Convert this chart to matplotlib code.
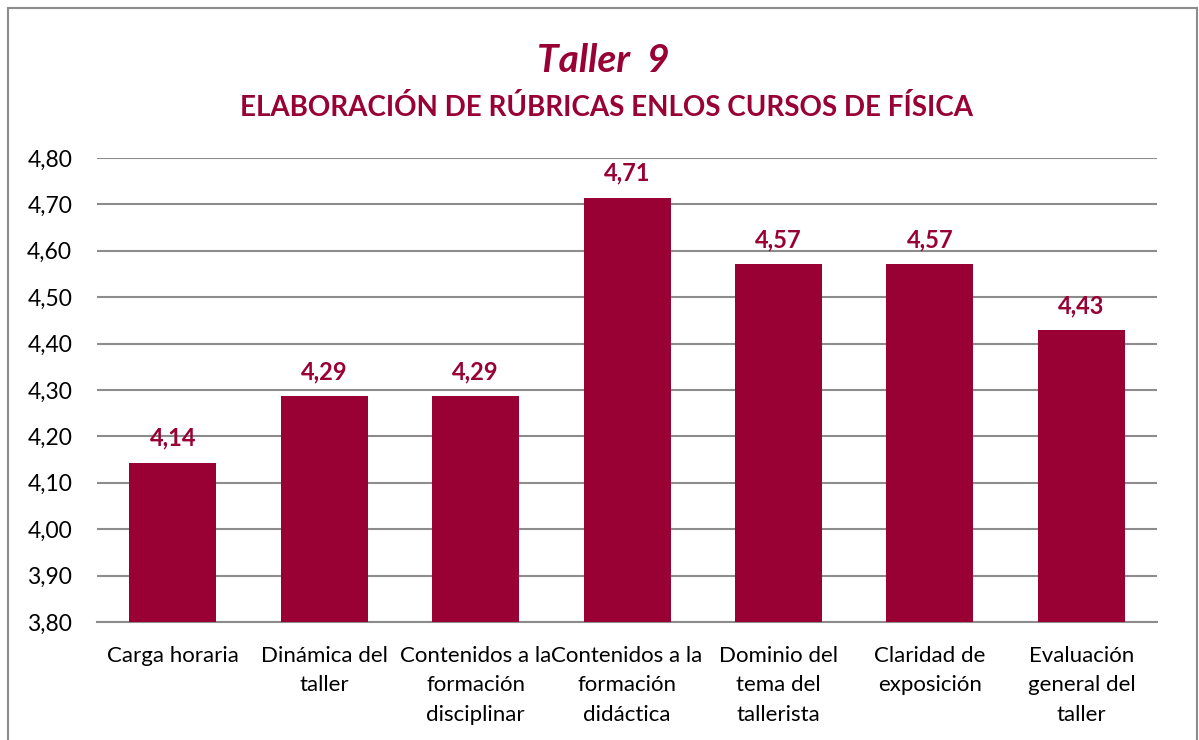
import matplotlib
matplotlib.use("Agg")
import matplotlib.pyplot as plt
from matplotlib.patches import Rectangle
import numpy as np

plt.rcParams['font.family'] = ['Lato', 'DejaVu Sans']

# data
categories = ["Carga horaria", "Dinámica del\ntaller", "Contenidos a la\nformación\ndisciplinar",
              "Contenidos a la\nformación\ndidáctica", "Dominio del\ntema del\ntallerista",
              "Claridad de\nexposición", "Evaluación\ngeneral del\ntaller"]
values = [4.143, 4.286, 4.286, 4.714, 4.571, 4.571, 4.429]
yticks = [3.8, 3.9, 4.0, 4.1, 4.2, 4.3, 4.4, 4.5, 4.6, 4.7, 4.8]

barColor = '#990033'
gridColor = '#8c8c8c'

fig = plt.figure(figsize=(11.99, 7.40), dpi=100)
ax = fig.add_axes([0.081, 0.1595, 0.884, 0.627])

x = np.arange(len(categories))
ax.bar(x, values, width=0.575, color=barColor, zorder=3)

for xi, v in zip(x, values):
	ax.text(xi, v + 0.028, ("%.2f" % v).replace('.', ','), ha='center', va='bottom',
		fontsize=17, fontweight='bold', color=barColor)

ax.set_ylim(3.8, 4.8)
ax.set_xlim(-0.5, len(categories) - 0.5)
ax.set_yticks(yticks)
ax.set_yticklabels([("%.2f" % t).replace('.', ',') for t in yticks], fontsize=16.5)
ax.set_xticks(x)
ax.set_xticklabels(categories, fontsize=16, linespacing=1.6, va='top')
ax.tick_params(axis='y', length=0, pad=18)
ax.tick_params(axis='x', length=0, pad=17)

ax.yaxis.grid(True, color=gridColor, linewidth=1.5, zorder=0)
for s in ['top', 'right', 'left']:
	ax.spines[s].set_visible(False)
ax.spines['bottom'].set_color(gridColor)
ax.spines['bottom'].set_linewidth(1.5)

fig.text(0.503, 0.918, "Taller  9", ha='center', va='center', fontsize=28,
	fontweight='bold', fontstyle='italic', color=barColor)
fig.text(0.506, 0.855, "ELABORACIÓN DE RÚBRICAS ENLOS CURSOS DE FÍSICA", ha='center', va='center',
	fontsize=20, fontweight='bold', color=barColor)

# outer frame
fig.patches.append(Rectangle((8 / 1199, -0.05), 1189 / 1199, 1.05 - 8 / 740, transform=fig.transFigure,
	fill=False, edgecolor='#8c8c8c', linewidth=1.5))

fig.savefig('out.png', dpi=100)
